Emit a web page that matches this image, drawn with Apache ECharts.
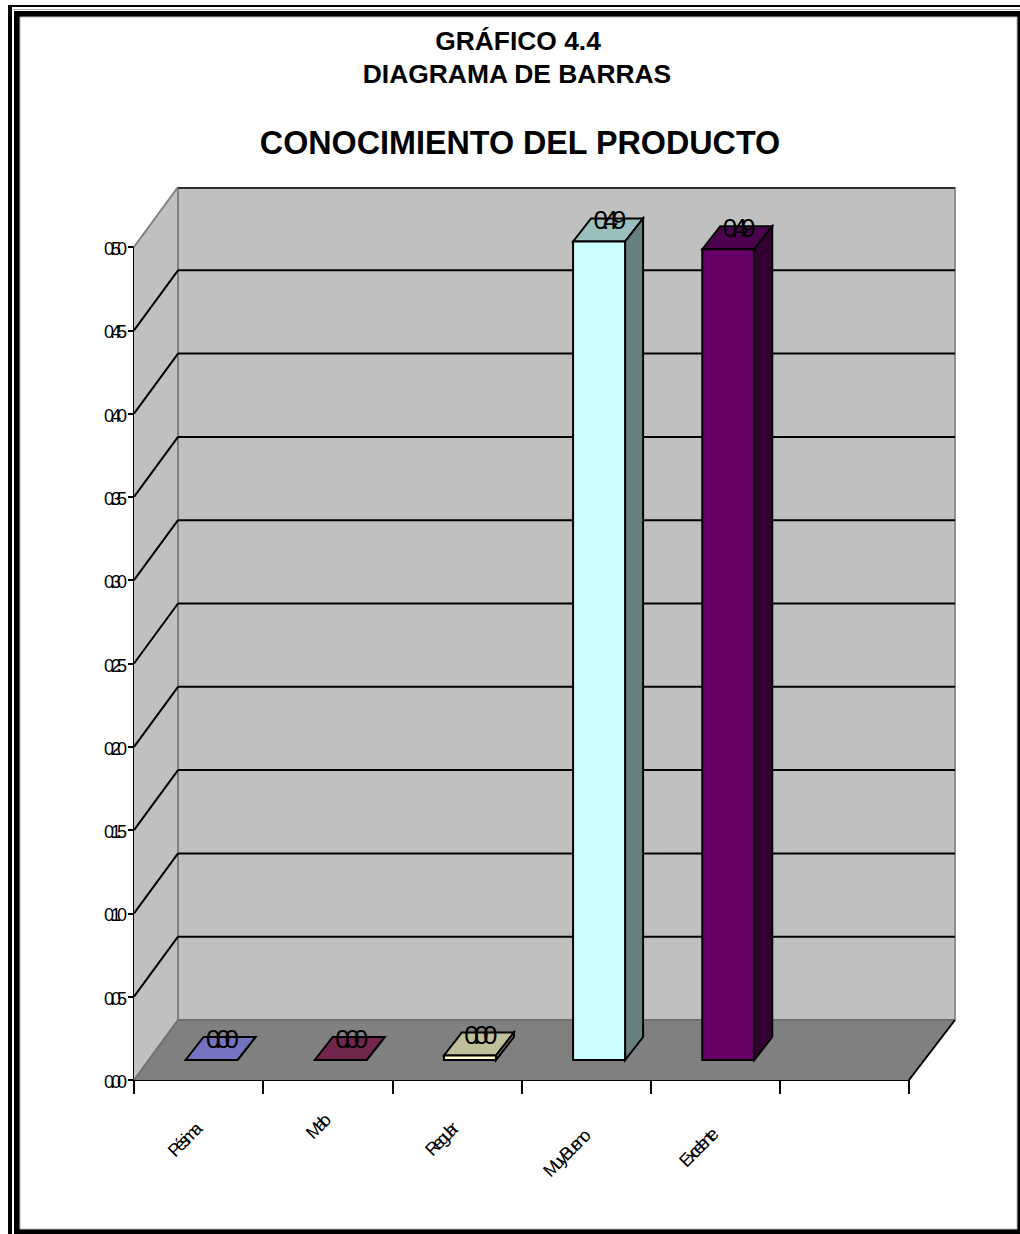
<!DOCTYPE html>
<html>
<head>
<meta charset="utf-8">
<script src="https://cdn.jsdelivr.net/npm/echarts@6/dist/echarts.min.js"></script>
<style>
html,body{margin:0;padding:0;background:#fff;overflow:hidden}
#c{width:1020px;height:1234px}
text[style*="18px"]{letter-spacing:-4px}
text[style*="25.9px"]{letter-spacing:-5.8px}
</style>
</head>
<body>
<div id="c"></div>
<script>
const categories = ['Pésima','Malo','Regular','Muy Bueno','Excelente',''];
const values = [0, 0, 0.0027, 0.4913, 0.4866, null];
const valueLabels = ['0.00','0.00','0.00','0.49','0.49',''];
const yTicks = [0.05,0.10,0.15,0.20,0.25,0.30,0.35,0.40,0.45];
const barColors = ['#9999ff','#993366','#ffffcc','#ccffff','#660066'];
const titleLine1 = 'GRÁFICO 4.4';
const titleLine2 = 'DIAGRAMA DE BARRAS';
const mainTitle = 'CONOCIMIENTO DEL PRODUCTO';
const labelLineHeight = [20,7,17,31,27,18];   // placement of each slanted label
const labelPadRight = [13,7,14,17,17,0];

const FONT = '"Liberation Sans", Arial, sans-serif';
const WALL_DX_L = 44, WALL_DX_R = 46, WALL_DY = 60;
const BAR_OX = 13, BAR_OY = 20, BAR_DX = 18, BAR_DY = 23, BAR_W = 52;

function shade(hex, f){
  const n = parseInt(hex.slice(1),16);
  const c = [n>>16,(n>>8)&255,n&255].map(v=>Math.round(v*f));
  return 'rgb('+c.join(',')+')';
}
function line(x1,y1,x2,y2,color,w){
  return {type:'line',shape:{x1,y1,x2,y2},style:{stroke:color,lineWidth:w}};
}
function poly(points,fill,stroke,w){
  return {type:'polygon',shape:{points},style:{fill,stroke:stroke||'none',lineWidth:w||0,lineJoin:'miter'}};
}
function renderWalls(params, api){
  const g = params.coordSys, x0=g.x, x1=g.x+g.width, yB=g.y+g.height, yT=g.y;
  return {type:'group',children:[
    poly([[x0+WALL_DX_L,yT-WALL_DY],[x1+WALL_DX_R,yT-WALL_DY],[x1+WALL_DX_R,yB-WALL_DY],[x0+WALL_DX_L,yB-WALL_DY]],'#c0c0c0'),
    poly([[x0,yT],[x0+WALL_DX_L,yT-WALL_DY],[x0+WALL_DX_L,yB-WALL_DY],[x0,yB]],'#c0c0c0'),
    poly([[x0,yB],[x0+WALL_DX_L,yB-WALL_DY],[x1+WALL_DX_R,yB-WALL_DY],[x1,yB]],'#808080'),
    line(x0+WALL_DX_L,yT-WALL_DY,x0+WALL_DX_L,yB-WALL_DY,'#808080',2),
    line(x1+WALL_DX_R,yT-WALL_DY,x1+WALL_DX_R,yB-WALL_DY,'#909090',2),
    line(x0,yT,x0+WALL_DX_L,yT-WALL_DY,'#808080',2),
    line(x0,yB,x0+WALL_DX_L,yB-WALL_DY,'#707070',2),
    line(x0+WALL_DX_L,yB-WALL_DY,x1+WALL_DX_R,yB-WALL_DY,'#707070',2),
    line(x0+WALL_DX_L,yT-WALL_DY+1,x1+WALL_DX_R,yT-WALL_DY+1,'#303030',2),
    line(x1,yB,x1+WALL_DX_R,yB-WALL_DY,'#000',2)
  ]};
}
function renderGrid(params, api){
  const g = params.coordSys, y = api.coord([0, api.value(0)])[1];
  return {type:'group',children:[
    line(g.x,y,g.x+WALL_DX_L,y-WALL_DY,'#000',2),
    line(g.x+WALL_DX_L,y-WALL_DY,g.x+g.width+WALL_DX_R,y-WALL_DY,'#000',2)
  ]};
}
function renderBar(params, api){
  const i = api.value(0), v = api.value(1);
  if (v == null || isNaN(v)) return null;
  const c = api.coord([i, v]), b = api.coord([i, 0]);
  const xl = c[0]+BAR_OX-BAR_W/2, xr = xl+BAR_W;
  const yt = c[1]-BAR_OY, yb = b[1]-BAR_OY;
  const col = barColors[i], k = '#000', w = 2;
  return {type:'group',children:[
    poly([[xl,yt],[xl+BAR_DX,yt-BAR_DY],[xr+BAR_DX,yt-BAR_DY],[xr,yt]],shade(col,0.75),k,w),
    poly([[xr,yt],[xr+BAR_DX,yt-BAR_DY],[xr+BAR_DX,yb-BAR_DY],[xr,yb]],shade(col,0.5),k,w),
    poly([[xl,yt],[xr,yt],[xr,yb],[xl,yb]],col,k,w),
    {type:'text',style:{text:valueLabels[i],x:(xl+xr)/2+BAR_DX/2-1,y:yt-BAR_DY/2-9.5,align:'center',verticalAlign:'middle',
      fontFamily:FONT,fontSize:25.9,fill:'#000'}}
  ]};
}

const chart = echarts.init(document.getElementById('c'), null, {renderer:'svg'});
chart.setOption({
  animation:false,
  backgroundColor:'#fff',
  title:[
    {text:titleLine1,left:513,top:23,textAlign:'center',
     textStyle:{fontFamily:FONT,fontSize:26.4,fontWeight:'bold',color:'#000'}},
    {text:titleLine2,left:512,top:56,textAlign:'center',
     textStyle:{fontFamily:FONT,fontSize:26.4,fontWeight:'bold',color:'#000'}},
    {text:mainTitle,left:515,top:122,textAlign:'center',
     textStyle:{fontFamily:FONT,fontSize:32.3,fontWeight:'bold',color:'#000'}}
  ],
  graphic:[
    {type:'rect',shape:{x:8,y:5,width:1012,height:2},style:{fill:'#000'}},
    {type:'rect',shape:{x:8,y:5,width:4,height:1229},style:{fill:'#000'}},
    {type:'rect',shape:{x:13,y:9,width:1007,height:1},style:{fill:'#aaa'}},
    {type:'rect',shape:{x:14,y:11,width:1006,height:1223},style:{fill:'#000'}},
    {type:'rect',shape:{x:20,y:17,width:997,height:1212},style:{fill:'#fff',stroke:'#bbb',lineWidth:1}}
  ],
  grid:{left:134,top:247,width:775,height:833,containLabel:false},
  xAxis:{
    type:'category',
    data:categories.map((c,i)=>({value:c,textStyle:{verticalAlign:'top',lineHeight:labelLineHeight[i],padding:[0,labelPadRight[i],0,0]}})),
    axisLine:{show:true,lineStyle:{color:'#000',width:2}},
    axisTick:{show:true,length:14,alignWithLabel:false,lineStyle:{color:'#000',width:2}},
    axisLabel:{interval:0,rotate:45,margin:32,color:'#000',fontFamily:FONT,fontSize:18},
    splitLine:{show:false}
  },
  yAxis:{
    type:'value',min:0,max:0.5,interval:0.05,
    axisLine:{show:true,lineStyle:{color:'#000',width:2}},
    axisTick:{show:true,length:6,lineStyle:{color:'#000',width:2}},
    axisLabel:{margin:11,color:'#000',fontFamily:FONT,fontSize:18,verticalAlign:'top',lineHeight:4,formatter:v=>v.toFixed(2)},
    splitLine:{show:false}
  },
  series:[
    {type:'custom',renderItem:renderWalls,data:[0],z:1,silent:true,clip:false},
    {type:'custom',renderItem:renderGrid,data:yTicks.map(v=>[v]),z:2,silent:true,clip:false,encode:{y:0}},
    {type:'custom',renderItem:renderBar,z:3,silent:true,clip:false,
     data:values.map((v,i)=>[i,v]),encode:{x:0,y:1}}
  ]
});
</script>
</body>
</html>
